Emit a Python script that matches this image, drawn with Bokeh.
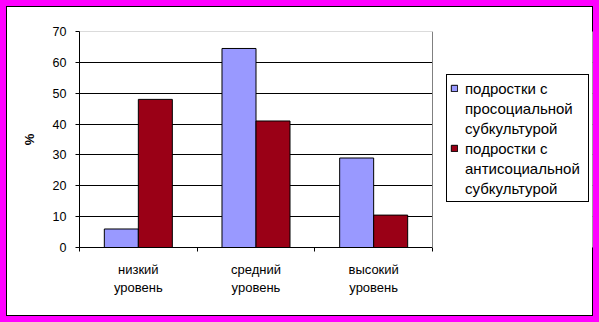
from bokeh.plotting import figure
from bokeh.models import (Range1d, LinearAxis, FixedTicker, ColumnDataSource, Legend, LegendItem,
                          BoxAnnotation, Span)
from bokeh.transform import dodge
from bokeh.embed import file_html
from bokeh.resources import INLINE

# ---- data ----
categories = ["низкий\nуровень", "средний\nуровень", "высокий\nуровень"]
prosocial = [6, 64.5, 29]
antisocial = [48, 41, 10.5]
y_ticks = [0, 10, 20, 30, 40, 50, 60, 70]
legend_prosocial = ["подростки с", "просоциальной", "субкультурой"]
legend_antisocial = ["подростки с", "антисоциальной", "субкультурой"]

FONT = "Liberation Sans"
BLUE = "#9999FF"
RED = "#9A0016"
W, H = 599, 322
FL, FR, FT, FB = 79, 432, 31, 247      # plot area (bars)
FRAME_R = 592                          # frame extended to host the legend
YMAX = 70

n = len(categories)
centers = [i + 0.5 for i in range(n)]
x_end = n * (FRAME_R - FL) / (FR - FL)

p = figure(width=W, height=H, x_range=Range1d(0, x_end), y_range=Range1d(0, YMAX),
           x_axis_location=None, output_backend="svg", toolbar_location=None,
           min_border_left=FL, min_border_right=W - FRAME_R, min_border_top=FT,
           min_border_bottom=H - FB)
p.styles = {"background-color": "white",
            "box-shadow": "inset 0 0 0 6px #FF00FF, inset 0 0 0 7px #000000"}
p.border_fill_color = None
p.background_fill_color = "white"
p.outline_line_color = None
p.xgrid.visible = False
p.ygrid.ticker = FixedTicker(ticks=y_ticks)
p.ygrid.grid_line_color = "black"

# y axis
yax = p.yaxis[0]
yax.ticker = FixedTicker(ticks=y_ticks)
yax.major_tick_out = 4
yax.major_tick_in = 0
yax.minor_tick_line_color = None
yax.axis_line_color = "black"
yax.major_tick_line_color = "black"
yax.major_label_text_font = FONT
yax.major_label_text_font_size = "12.5px"
yax.major_label_text_color = "black"
yax.major_label_standoff = 9
yax.axis_label = "%"
yax.axis_label_text_font = FONT
yax.axis_label_text_font_style = "bold"
yax.axis_label_text_font_size = "13px"
yax.axis_label_text_color = "black"
yax.axis_label_standoff = 13

# x axis: category labels at centers, boundary ticks as minor ticks
cat_axis = LinearAxis(ticker=FixedTicker(ticks=centers, minor_ticks=list(range(n + 1))),
                      bounds=(0, n),
                      major_label_overrides={c: lab for c, lab in zip(centers, categories)},
                      axis_line_color="black", major_tick_line_color=None,
                      minor_tick_line_color="black", minor_tick_out=4, minor_tick_in=0,
                      major_tick_out=4, major_tick_in=0,
                      major_label_text_font=FONT,
                      major_label_text_font_size="13px", major_label_text_color="black",
                      major_label_standoff=10, major_label_text_line_height=1.25)
p.add_layout(cat_axis, "below")

# bars
source = ColumnDataSource(dict(x=centers, prosocial=prosocial, antisocial=antisocial))
bw = 0.289
r_pro = p.vbar(x=dodge("x", -bw / 2), top="prosocial", width=bw, source=source,
               fill_color=BLUE, line_color="black", line_width=1)
r_anti = p.vbar(x=dodge("x", bw / 2), top="antisocial", width=bw, source=source,
                fill_color=RED, line_color="black", line_width=1)
# invisible swatch for continuation lines of the legend
r_blank = p.vbar(x=[], top=[], width=0, fill_alpha=0, line_alpha=0)

# blank the area right of the plot area, then draw its gray border
p.add_layout(BoxAnnotation(left=n, fill_color="white", fill_alpha=1, line_color=None))
p.add_layout(Span(location=n, dimension="height", line_color="#808080", line_width=1))
p.add_layout(BoxAnnotation(left=0, right=n, bottom=YMAX, top=YMAX, fill_color=None,
                           line_color="#808080", line_width=1))

items = []
for r, lines in [(r_pro, legend_prosocial), (r_anti, legend_antisocial)]:
    items.append(LegendItem(label=lines[0], renderers=[r]))
    for t in lines[1:]:
        items.append(LegendItem(label=t, renderers=[r_blank]))

legend = Legend(items=items, location=(446 - FL, FB - 202), orientation="vertical",
                padding=3, margin=0, spacing=0, label_height=20, label_width=120,
                glyph_width=8, glyph_height=8, label_standoff=7,
                label_text_font=FONT, label_text_font_size="15px", label_text_color="black",
                border_line_color="black", border_line_width=1, border_line_alpha=1,
                background_fill_color="white", background_fill_alpha=1)
p.add_layout(legend, "center")

open("out.html", "w").write(file_html(p, INLINE))
